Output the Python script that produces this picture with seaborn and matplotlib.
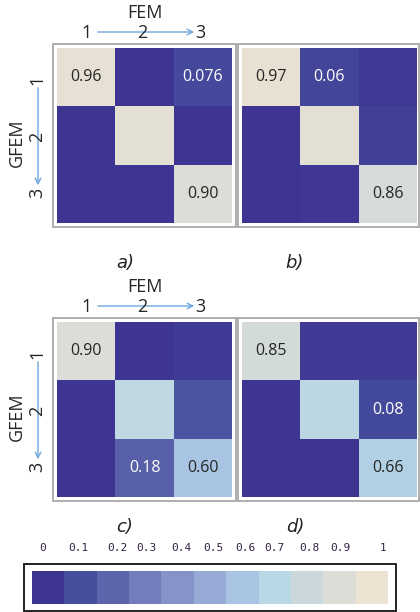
import numpy as np
import pandas as pd
import matplotlib
matplotlib.use("Agg")
import matplotlib.pyplot as plt
from matplotlib.colors import LinearSegmentedColormap
from matplotlib.patches import Rectangle, FancyArrowPatch
import seaborn as sns

# --- DATA ---
modes = ["1", "2", "3"]
mac_a = [[0.96, 0.00, 0.076], [0.00, 0.95, 0.00], [0.00, 0.00, 0.90]]
mac_b = [[0.97, 0.06, 0.02], [0.00, 0.94, 0.04], [0.00, 0.01, 0.86]]
mac_c = [[0.90, 0.00, 0.03], [0.00, 0.74, 0.12], [0.00, 0.18, 0.60]]
mac_d = [[0.85, 0.02, 0.03], [0.00, 0.72, 0.08], [0.00, 0.00, 0.66]]
annot_a = [["0.96", "", "0.076"], ["", "", ""], ["", "", "0.90"]]
annot_b = [["0.97", "0.06", ""], ["", "", ""], ["", "", "0.86"]]
annot_c = [["0.90", "", ""], ["", "", ""], ["", "0.18", "0.60"]]
annot_d = [["0.85", "", ""], ["", "", "0.08"], ["", "", "0.66"]]
panel_labels = ["a)", "b)", "c)", "d)"]
scale_levels = [0.0, 0.1, 0.2, 0.3, 0.4, 0.5, 0.6, 0.7, 0.8, 0.9, 1.0]
scale_labels = ["0", "0.1", "0.2", "0.3", "0.4", "0.5", "0.6", "0.7", "0.8", "0.9", "1"]
scale_label_pos = [0.03, 0.13, 0.24, 0.32, 0.42, 0.51, 0.60, 0.68, 0.78, 0.865, 0.985]

# --- STYLE ---
COLORS = ["#3e3592", "#46509e", "#5c64ac", "#737dbc", "#8693c8", "#97aad6",
          "#a8c4e2", "#b7d8e4", "#cad8dc", "#dcddd6", "#ece3d2"]
cmap = LinearSegmentedColormap.from_list("mac", COLORS)
ARROW = "#6fa8dc"
W, H = 420, 612

sns.set_style("white")
plt.rcParams["font.family"] = ["Open Sans", "DejaVu Sans"]


def box(x0, y0, x1, y1):
    # pixel box (top-left origin) -> figure fraction rect
    return [x0 / W, 1 - y1 / H, (x1 - x0) / W, (y1 - y0) / H]


def frame(fig, x0, y0, x1, y1, color, lw):
    r = box(x0, y0, x1, y1)
    fig.patches.append(Rectangle((r[0], r[1]), r[2], r[3], transform=fig.transFigure,
                                 fill=False, edgecolor=color, linewidth=lw))


fig = plt.figure(figsize=(W / 100, H / 100), dpi=100)

panels = [
    (mac_a, annot_a, (57, 48, 232, 223), (53, 44, 236, 227), (125, 263)),
    (mac_b, annot_b, (242, 48, 417, 223), (238, 44, 419, 227), (295, 263)),
    (mac_c, annot_c, (57, 322, 232, 497), (53, 318, 236, 501), (125, 527)),
    (mac_d, annot_d, (242, 322, 417, 497), (238, 318, 419, 501), (295, 527)),
]

for (vals, ann, cells, frm, lab), name in zip(panels, panel_labels):
    ax = fig.add_axes(box(*cells))
    df = pd.DataFrame(vals, index=modes, columns=modes)
    sns.heatmap(df, ax=ax, cmap=cmap, vmin=0, vmax=1, cbar=False,
                annot=np.array(ann), fmt="", xticklabels=False, yticklabels=False,
                annot_kws={"fontsize": 11.5, "family": "Open Sans"})
    frame(fig, *frm, color="#a8a8a8", lw=1.3)
    fig.text(lab[0] / W, 1 - lab[1] / H, name, fontsize=13, style="italic",
             ha="center", va="center", family="DejaVu Sans", color="#222222")

# axis annotations for left-column panels (FEM on top, GFEM on left)
for top in (0, 274):
    fig.text(145 / W, 1 - (13 + top) / H, "FEM", fontsize=13, ha="center", va="center")
    for x, m in zip((87, 142, 200), modes):
        fig.text(x / W, 1 - (33 + top) / H, m, fontsize=13, ha="center", va="center")
    fig.patches.append(FancyArrowPatch(
        (95 / W, 1 - (32 + top) / H), (197 / W, 1 - (32 + top) / H),
        transform=fig.transFigure, arrowstyle="->", mutation_scale=10,
        color=ARROW, linewidth=1))
    fig.text(17 / W, 1 - (143 + top) / H, "GFEM", fontsize=13, rotation=90,
             ha="center", va="center")
    for y, m in zip((80, 137, 193), modes):
        fig.text(37 / W, 1 - (y + top) / H, m, fontsize=13, rotation=90,
                 ha="center", va="center")
    fig.patches.append(FancyArrowPatch(
        (38 / W, 1 - (85 + top) / H), (38 / W, 1 - (188 + top) / H),
        transform=fig.transFigure, arrowstyle="->", mutation_scale=10,
        color=ARROW, linewidth=1))

# colour scale
cax = fig.add_axes(box(32, 571, 388, 604))
sns.heatmap([scale_levels], ax=cax, cmap=cmap, vmin=0, vmax=1, cbar=False,
            xticklabels=False, yticklabels=False)
cax.set_xticks([p * len(scale_levels) for p in scale_label_pos])
cax.set_xticklabels(scale_labels, family="DejaVu Sans Mono", fontsize=8, color="#332244")
cax.tick_params(top=True, labeltop=True, bottom=False, labelbottom=False,
                length=0, pad=13)
frame(fig, 24, 564, 396, 611, color="#111111", lw=1.3)

fig.savefig("out.png", dpi=100)
